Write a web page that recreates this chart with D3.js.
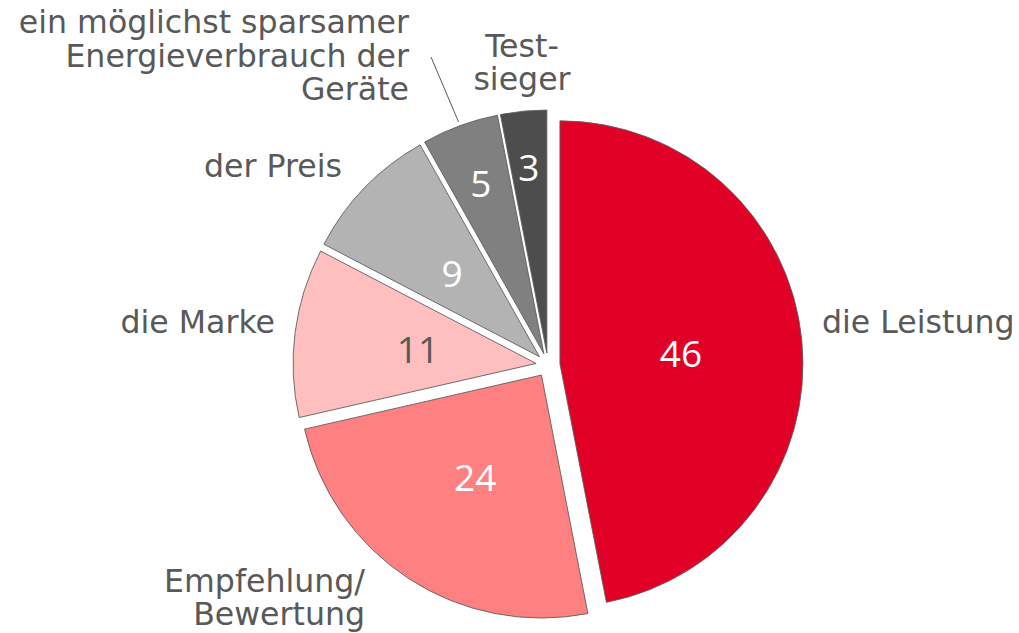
<!DOCTYPE html>
<html><head><meta charset="utf-8">
<script src="https://cdn.jsdelivr.net/npm/d3@7"></script>
<style>body{margin:0;background:#fff}svg{display:block}</style>
</head><body>
<script>
const categories = [["die Leistung"], ["Empfehlung/", "Bewertung"], ["die Marke"], ["der Preis"], ["ein möglichst sparsamer", "Energieverbrauch der", "Geräte"], ["Test-", "sieger"]];
const values = [46, 24, 11, 9, 5, 3];
const colors = ["#E10026", "#FF8080", "#FFBFBF", "#B3B3B3", "#808080", "#4D4D4D"];
const valueTextColors = ["#fff", "#fff", "#595959", "#fff", "#fff", "#fff"];
const valueLabelRadius = [0.5, 0.5, 0.49, 0.5, 0.75, 0.77];
// outer label anchors: [x, y of first baseline, anchor]
const outerLabelPos = [[822, 333, "start"], [365, 592, "end"], [275, 333, "end"], [342, 177, "end"], [409, 33, "end"], [522, 57, "middle"]];
const lineHeights = [33, 33, 33, 33, 33.5, 33];

const W = 1019, H = 633;
const cx = 548, cy = 365, R = 243, explode = 12;

const svg = d3.select("body").append("svg").attr("width", W).attr("height", H);
const pie = d3.pie().sort(null).value(d => d);
const arcs = pie(values);
const arc = d3.arc().innerRadius(0).outerRadius(R);

const g = svg.append("g").attr("transform", `translate(${cx},${cy})`);

const slices = g.selectAll("g.slice").data(arcs).enter().append("g")
  .attr("transform", d => {
    const a = (d.startAngle + d.endAngle) / 2;
    return `translate(${explode * Math.sin(a)},${-explode * Math.cos(a)})`;
  });

slices.append("path").attr("d", arc)
  .attr("fill", (d, i) => colors[i])
  .attr("stroke", "#5f5f5f").attr("stroke-width", 0.9).attr("stroke-linejoin", "round");

slices.append("text")
  .attr("x", (d, i) => valueLabelRadius[i] * R * Math.sin((d.startAngle + d.endAngle) / 2))
  .attr("y", (d, i) => -valueLabelRadius[i] * R * Math.cos((d.startAngle + d.endAngle) / 2))
  .attr("text-anchor", "middle").attr("dominant-baseline", "central")
  .attr("font-family", "'Open Sans', sans-serif").attr("font-size", 37)
  .attr("fill", (d, i) => valueTextColors[i])
  .text(d => d.data);

// leader line for small slice label
{
  const d = arcs[4];
  const a = (d.startAngle + d.endAngle) / 2;
  const ox = cx + explode * Math.sin(a), oy = cy - explode * Math.cos(a);
  const ex = ox + (R + 4) * Math.sin(a), ey = oy - (R + 4) * Math.cos(a);
  svg.append("line").attr("x1", 431).attr("y1", 57).attr("x2", ex).attr("y2", ey)
    .attr("stroke", "#595959").attr("stroke-width", 1);
}

categories.forEach((lines, i) => {
  const [x, y, anchor] = outerLabelPos[i];
  lines.forEach((ln, j) => {
    svg.append("text").attr("x", x).attr("y", y + j * lineHeights[i])
      .attr("text-anchor", anchor)
      .attr("font-family", "'DejaVu Sans', Verdana, sans-serif").attr("font-size", 31.6)
      .attr("fill", "#595959")
      .text(ln);
  });
});
</script>
</body></html>
